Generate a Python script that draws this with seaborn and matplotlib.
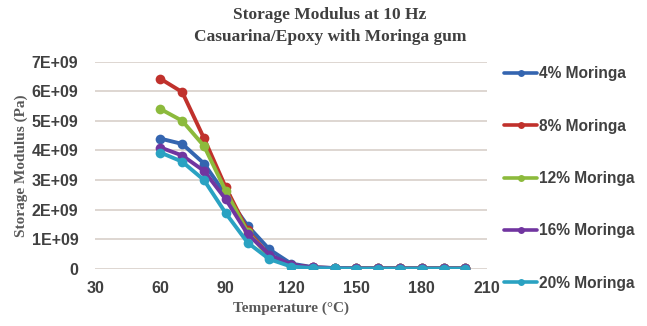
import matplotlib
matplotlib.use("Agg")
import matplotlib.pyplot as plt
import seaborn as sns
import pandas as pd

# temperature (C) and storage modulus (Pa)
temperature = [60, 70, 80, 90, 100, 110, 120, 130, 140, 150, 160, 170, 180, 190, 200]
moringa_4 = [4.40e9, 4.22e9, 3.56e9, 2.50e9, 1.46e9, 0.66e9, 0.18e9, 0.06e9, 0.03e9, 0.02e9, 0.02e9, 0.02e9, 0.02e9, 0.02e9, 0.02e9]
moringa_8 = [6.42e9, 5.97e9, 4.41e9, 2.75e9, 1.30e9, 0.45e9, 0.13e9, 0.05e9, 0.03e9, 0.02e9, 0.02e9, 0.02e9, 0.02e9, 0.02e9, 0.02e9]
moringa_12 = [5.40e9, 5.00e9, 4.15e9, 2.63e9, 1.25e9, 0.40e9, 0.10e9, 0.04e9, 0.03e9, 0.02e9, 0.02e9, 0.02e9, 0.02e9, 0.02e9, 0.02e9]
moringa_16 = [4.10e9, 3.83e9, 3.31e9, 2.35e9, 1.18e9, 0.48e9, 0.14e9, 0.05e9, 0.03e9, 0.02e9, 0.02e9, 0.02e9, 0.02e9, 0.02e9, 0.02e9]
moringa_20 = [3.93e9, 3.62e9, 3.00e9, 1.88e9, 0.89e9, 0.33e9, 0.08e9, 0.03e9, 0.02e9, 0.01e9, 0.01e9, 0.01e9, 0.01e9, 0.01e9, 0.01e9]

series_names = ["4% Moringa", "8% Moringa", "12% Moringa", "16% Moringa", "20% Moringa"]
series_values = [moringa_4, moringa_8, moringa_12, moringa_16, moringa_20]
colors = ["#3465b0", "#c0312c", "#8cba3c", "#7135a0", "#2aa2c2"]

yticks = [0, 1e9, 2e9, 3e9, 4e9, 5e9, 6e9, 7e9]
ytick_labels = ["0", "1E+09", "2E+09", "3E+09", "4E+09", "5E+09", "6E+09", "7E+09"]
xticks = [30, 60, 90, 120, 150, 180, 210]

rows = []
for name, vals in zip(series_names, series_values):
    for t, v in zip(temperature, vals):
        rows.append({"Temperature": t, "Modulus": v, "Series": name})
df = pd.DataFrame(rows)

sns.set_style("white")
fig = plt.figure(figsize=(6.47, 3.26), dpi=100)
ax = fig.add_axes([0.147, 0.175, 0.606, 0.636])

sns.lineplot(data=df, x="Temperature", y="Modulus", hue="Series", hue_order=series_names,
             palette=colors, marker="o", markersize=7, markeredgewidth=0,
             linewidth=2.8, ax=ax)

ax.set_xlim(30, 210)
ax.set_ylim(0, 7e9)
ax.set_xticks(xticks)
ax.set_yticks(yticks)
ax.set_yticklabels(ytick_labels)
ax.grid(axis="y", color="#d8d0ca", linewidth=1.2)
ax.set_axisbelow(True)
for s in ax.spines.values():
    s.set_visible(False)
ax.tick_params(length=0, labelcolor="#404040")
ax.tick_params(axis="y", pad=12)
ax.tick_params(axis="x", pad=9)
for lab in ax.get_xticklabels() + ax.get_yticklabels():
    lab.set_fontfamily("Liberation Sans")
    lab.set_fontweight("bold")
    lab.set_fontsize(11.5)

ax.set_xlabel("Temperature (\u00b0C)", family="Liberation Serif", fontweight="bold",
              fontsize=11, color="#595959", labelpad=4)
ax.set_ylabel("Storage Modulus (Pa)", family="Liberation Serif", fontweight="bold",
              fontsize=11, color="#595959", labelpad=3)

fig.text(0.51, 0.955, "Storage Modulus at 10 Hz", ha="center", va="center",
         family="Liberation Serif", fontweight="bold", fontsize=12.5, color="#404040")
fig.text(0.51, 0.887, "Casuarina/Epoxy with Moringa gum", ha="center", va="center",
         family="Liberation Serif", fontweight="bold", fontsize=12.5, color="#404040")

leg = ax.legend(loc="upper left", bbox_to_anchor=(1.007, 1.045), frameon=False,
                labelspacing=2.4, handlelength=2.15, handletextpad=0.08,
                prop={"family": "Liberation Sans", "weight": "bold", "size": 11.2})
for txt in leg.get_texts():
    txt.set_color("#404040")
for h in leg.legend_handles:
    h.set_markersize(5)
    h.set_linewidth(2.6)

fig.savefig("out.png", dpi=100)
